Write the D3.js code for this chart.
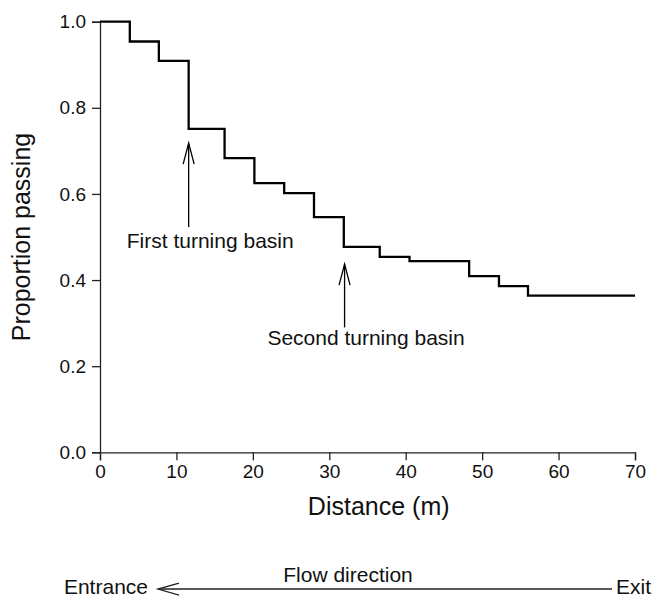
<!DOCTYPE html>
<html>
<head>
<meta charset="utf-8">
<script src="https://cdn.jsdelivr.net/npm/d3@7"></script>
<style>
  body { margin: 0; background: #fff; }
  text { font-family: "Liberation Sans", Arial, Helvetica, sans-serif; fill: #111; }
</style>
</head>
<body>
<div id="chart"></div>
<script>
// step breakpoints (m) and proportion passing after each breakpoint
const distances = [0, 3.9, 7.7, 11.6, 16.3, 20.2, 24.1, 28.0, 31.9, 36.6, 40.5, 48.3, 52.2, 56.0, 70];
const proportions = [1.0, 0.954, 0.909, 0.751, 0.683, 0.625, 0.602, 0.546, 0.477, 0.454, 0.444, 0.409, 0.386, 0.364, 0.364];
const xTicks = [0, 10, 20, 30, 40, 50, 60, 70];
const yTicks = [0, 0.2, 0.4, 0.6, 0.8, 1.0];
const annLabels = ["First turning basin", "Second turning basin"];
const annX = [11.6, 32.0];
const annTip = [0.718, 0.437];
const annTail = [0.523, 0.29];
const annTextX = [3.5, 21.9];
const annTextY = [0.474, 0.25];

const width = 652, height = 598;

const svg = d3.select("#chart").append("svg")
  .attr("width", width)
  .attr("height", height);

const x = d3.scaleLinear().domain([0, 70]).range([100, 635]);
const y = d3.scaleLinear().domain([0, 1]).range([452.3, 21.7]);

// axes
const xAxis = svg.append("g")
  .attr("transform", `translate(0,${y(0)})`)
  .call(d3.axisBottom(x).tickValues(xTicks).tickSize(8).tickPadding(4).tickFormat(d3.format("d")));
const yAxis = svg.append("g")
  .attr("transform", `translate(${x(0)},0)`)
  .call(d3.axisLeft(y).tickValues(yTicks).tickSize(8).tickPadding(6).tickFormat(d3.format(".1f")));

[xAxis, yAxis].forEach(a => {
  a.select(".domain").attr("stroke", "#222").attr("stroke-width", 1.3);
  a.selectAll(".tick line").attr("stroke", "#222").attr("stroke-width", 1.3);
  a.selectAll(".tick text").style("font-size", "19px").attr("fill", "#111");
});

// step line
const pts = distances.map((d, i) => [d, proportions[i]]);
svg.append("path")
  .datum(pts)
  .attr("fill", "none")
  .attr("stroke", "#000")
  .attr("stroke-width", 2.3)
  .attr("d", d3.line().x(d => x(d[0])).y(d => y(d[1])).curve(d3.curveStepAfter));

// annotations
annLabels.forEach((lab, i) => {
  const ax = x(annX[i]), ty = y(annTip[i]), by = y(annTail[i]);
  svg.append("line").attr("x1", ax).attr("x2", ax).attr("y1", ty).attr("y2", by)
    .attr("stroke", "#000").attr("stroke-width", 1.3);
  svg.append("path")
    .attr("d", `M${ax - 5.5},${ty + 21}L${ax},${ty}L${ax + 5.5},${ty + 21}`)
    .attr("fill", "none").attr("stroke", "#000").attr("stroke-width", 1.3);
  svg.append("text")
    .attr("x", x(annTextX[i])).attr("y", y(annTextY[i]))
    .style("font-size", "21px")
    .text(lab);
});

// axis titles
svg.append("text")
  .attr("x", 378.7).attr("y", 515)
  .attr("text-anchor", "middle")
  .style("font-size", "25px")
  .text("Distance (m)");

svg.append("text")
  .attr("transform", `translate(30,${(y(0) + y(1)) / 2}) rotate(-90)`)
  .attr("text-anchor", "middle")
  .style("font-size", "25px")
  .text("Proportion passing");

// flow direction
svg.append("text")
  .attr("x", 348).attr("y", 582)
  .attr("text-anchor", "middle")
  .style("font-size", "21px")
  .text("Flow direction");
svg.append("line").attr("x1", 158).attr("x2", 612).attr("y1", 589).attr("y2", 589)
  .attr("stroke", "#222").attr("stroke-width", 1.3);
svg.append("path")
  .attr("d", "M179,583L158,589L179,595")
  .attr("fill", "none").attr("stroke", "#222").attr("stroke-width", 1.3);
svg.append("text")
  .attr("x", 148).attr("y", 594)
  .attr("text-anchor", "end")
  .style("font-size", "21px")
  .text("Entrance");
svg.append("text")
  .attr("x", 651).attr("y", 594)
  .attr("text-anchor", "end")
  .style("font-size", "21px")
  .text("Exit");
</script>
</body>
</html>
